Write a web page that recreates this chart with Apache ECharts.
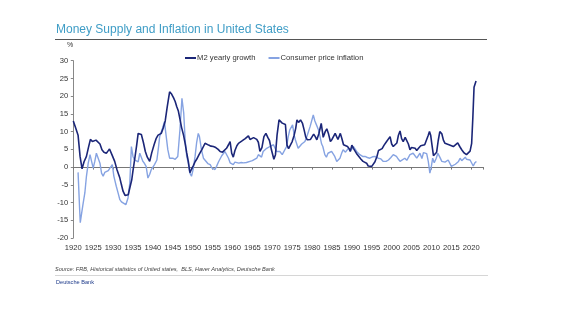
<!DOCTYPE html>
<html>
<head>
<meta charset="utf-8">
<script src="https://cdn.jsdelivr.net/npm/echarts@6/dist/echarts.min.js"></script>
<style>html,body{margin:0;padding:0;background:#fff;}#c{width:561px;height:321px;}</style>
</head>
<body>
<div id="c"></div>
<script>
const titleText = 'Money Supply and Inflation in United States';
const seriesNames = ['M2 yearly growth', 'Consumer price inflation'];
const sourceText = 'Source: FRB, Historical statistics of United states,  BLS, Haver Analytics, Deutsche Bank';
const yTicks = { min: -20, max: 30, step: 5 };
const xTicks = { min: 1920, max: 2023, step: 5 };

const m2Years = [1920.0,1920.6,1921.2,1921.7,1922.2,1922.7,1923.3,1923.8,1924.3,1924.8,1925.2,1925.7,1926.2,1926.7,1927.2,1927.7,1928.3,1928.7,1929.1,1929.7,1930.4,1931.0,1931.7,1932.1,1932.5,1933.0,1933.3,1933.8,1934.2,1934.7,1935.0,1935.4,1935.9,1936.3,1936.7,1937.1,1937.6,1938.1,1938.6,1939.2,1939.7,1940.3,1940.8,1941.3,1941.7,1942.1,1942.6,1943.1,1943.6,1944.2,1944.7,1945.2,1945.6,1946.0,1946.4,1946.8,1947.2,1947.7,1948.1,1948.5,1948.9,1949.3,1949.7,1950.2,1950.6,1951.0,1951.6,1952.3,1952.7,1953.1,1953.6,1954.0,1954.6,1955.2,1955.8,1956.4,1956.9,1957.5,1958.0,1958.5,1959.0,1959.4,1959.8,1960.2,1960.6,1961.1,1961.5,1962.0,1962.3,1962.8,1963.2,1963.6,1964.0,1964.4,1964.8,1965.3,1965.7,1966.1,1966.5,1966.9,1967.4,1967.9,1968.4,1968.9,1969.3,1969.8,1970.4,1970.8,1971.2,1971.7,1972.1,1972.5,1972.9,1973.3,1973.7,1974.1,1974.6,1975.0,1975.5,1975.9,1976.2,1976.6,1977.1,1977.6,1978.0,1978.4,1978.8,1979.2,1979.6,1980.0,1980.4,1980.8,1981.2,1981.7,1982.3,1982.8,1983.3,1983.7,1984.1,1984.6,1985.0,1985.4,1985.8,1986.2,1986.5,1987.1,1987.5,1987.9,1988.4,1988.9,1989.3,1989.6,1990.0,1990.4,1990.9,1991.3,1991.8,1992.3,1992.8,1993.2,1993.7,1994.1,1994.5,1995.0,1995.4,1995.8,1996.3,1996.7,1997.2,1997.6,1998.1,1998.6,1999.0,1999.6,2000.0,2000.4,2000.9,2001.3,2001.7,2002.1,2002.5,2002.9,2003.4,2003.8,2004.2,2004.6,2005.0,2005.4,2005.9,2006.3,2006.8,2007.3,2007.8,2008.3,2008.8,2009.2,2009.5,2009.8,2010.1,2010.5,2010.9,2011.3,2011.7,2012.1,2012.6,2013.0,2013.4,2013.9,2014.4,2014.9,2015.5,2016.0,2016.6,2017.1,2017.6,2018.2,2018.8,2019.3,2019.7,2020.1,2020.4,2020.7,2021.2];
const m2Values = [13,11,9,3,-0.5,1.5,3,5.5,7.8,7.2,6.9,7.6,8.1,6.5,4.9,4.2,3.9,4.5,5.1,3.5,1.6,-0.8,-3.1,-5,-6.8,-8,-8.5,-7.8,-7.3,-3.5,-1,2,6,9.5,9.4,9.2,7,4.4,2.8,1.6,4,6.3,8,9,9.2,9.5,11,13,17,21.2,20.6,19.5,18.5,17,15.8,13.5,11.2,9,6.7,4,1.6,-1.6,-0.6,0.5,1.5,2.2,3.5,4.9,5.8,6.7,6.4,6.2,5.9,5.8,5.5,5,4.4,4.2,4.5,5.3,6.3,7.2,3.9,2.8,4.6,6,6.7,7,7.3,7.7,8,8.1,8.8,7.8,8.1,8.3,8,7.8,7,4.4,5.5,8.6,9.5,8.3,7.5,4.8,2.2,3.5,9,13.3,13,12.4,12.8,12,6.2,5.2,5.6,7.2,9,11,13.3,12.6,13.3,12.3,10.5,8.5,7.7,7.5,7.8,8,9.3,8.6,7.7,9.4,12.3,8.4,10,10.8,9.5,7.2,7.8,8.2,9.5,8.5,7.8,9.5,8,6.3,6.7,5.8,5.2,4.4,6.2,5.3,4.8,3.6,3.4,2.2,1.6,1.2,1.1,0.3,0.8,0.2,0.1,1.5,3,4.7,4.6,5.2,6.2,7,7.5,8.6,6.5,5.8,6.3,6.8,9,10.2,8,7.2,8.4,8.9,6.5,4.9,5.5,5.8,5.3,4.7,5.4,6,6.4,6.3,6.5,9,10,9,6.5,3.2,3.6,4.2,7.5,10,9.4,7.6,6.7,6.5,6.3,6.1,5.8,6.1,6.8,5.8,4.9,4,3.5,3.7,4.5,6.7,14,22.5,24.3];

const cpiYears = [1921.2,1921.6,1921.75,1922.1,1922.5,1922.9,1923.3,1923.75,1924.2,1924.6,1925.0,1925.4,1925.8,1926.25,1926.7,1927.1,1927.5,1927.9,1928.3,1928.8,1929.2,1929.8,1930.2,1930.8,1931.3,1931.7,1932.1,1932.5,1933.2,1933.75,1934.2,1934.6,1935.0,1935.4,1935.8,1936.3,1936.7,1937.1,1937.5,1937.9,1938.3,1938.75,1939.2,1939.6,1940.0,1940.4,1941.0,1941.4,1941.7,1942.3,1942.9,1943.3,1943.75,1944.2,1944.6,1945.0,1945.6,1946.25,1946.8,1947.3,1947.75,1948.1,1948.5,1948.9,1949.3,1949.7,1950.1,1950.6,1951.0,1951.4,1951.7,1952.2,1952.7,1953.2,1953.8,1954.4,1954.8,1955.2,1955.6,1956.0,1956.5,1956.9,1957.3,1957.7,1958.1,1958.5,1959.0,1959.4,1959.8,1960.2,1960.6,1961.0,1961.6,1962.2,1962.8,1963.5,1964.0,1964.4,1965.0,1965.5,1966.1,1966.5,1966.9,1967.3,1967.7,1968.2,1968.6,1969.0,1969.4,1969.9,1970.3,1970.7,1971.1,1971.5,1971.9,1972.5,1973.0,1973.6,1974.0,1974.4,1975.1,1975.5,1975.8,1976.5,1977.0,1977.4,1978.2,1978.8,1979.5,1980.3,1980.7,1981.1,1981.6,1982.0,1982.4,1982.7,1983.2,1983.6,1984.0,1984.9,1985.3,1985.7,1986.2,1986.6,1987.0,1987.4,1987.8,1988.4,1989.1,1989.8,1990.4,1990.8,1991.2,1991.6,1992.0,1992.7,1993.3,1993.9,1994.5,1995.2,1995.8,1996.2,1996.6,1997.3,1997.9,1998.6,1999.2,1999.8,2000.4,2000.8,2001.2,2001.7,2002.1,2002.6,2003.3,2003.8,2004.6,2005.0,2005.4,2005.9,2006.3,2006.7,2007.1,2007.6,2008.0,2008.4,2008.8,2009.2,2009.6,2009.9,2010.3,2010.7,2011.2,2011.6,2012.1,2012.6,2013.0,2013.4,2013.9,2014.2,2014.6,2015.0,2015.5,2016.0,2016.3,2016.8,2017.2,2017.6,2018.0,2018.5,2018.8,2019.3,2019.7,2020.2,2020.5,2020.9,2021.3];
const cpiValues = [-1.5,-12,-15.7,-13,-10,-7.3,-2.6,1.1,3.5,1.6,-0.3,1.6,3.9,4.1,1.1,-1.7,-2.6,-1.5,-1.7,-1,-0.3,0.7,-2.6,-5.4,-7.5,-9.2,-9.8,-10.1,-10.6,-8.7,-4.5,5.8,3,2,2.5,1.5,3.9,3.5,1.6,1,0.2,-3.1,-2,-0.7,0,0.7,2,5.5,8.6,10.5,12.8,9.1,4.9,2.5,2,2.5,2.2,3,10.5,19.4,15.2,7.7,3,1.1,-1.7,-2.6,-0.7,3,7,9.5,8.6,4.9,2.5,2,1,0.7,-0.2,-0.3,-0.7,0.2,1.5,2,3.2,3.5,4.4,3.9,2.5,1.2,1.6,0.7,1.4,1.6,1.1,1.3,1.2,1.3,1.4,1.6,1.8,1.9,2.5,3.5,3,2.8,4.4,4.5,5.3,5.5,5.8,6,6.3,5.3,4.4,4.9,4.4,3.5,4,5.8,8.5,10.5,11.9,9,7.7,5.3,5.8,6.5,7.2,9,11.4,14.7,13,11.9,10.5,8.6,6.5,5.8,3.5,2.8,3.9,4.4,3.7,3,1.6,1.8,2.5,3.8,4.9,4.2,5.3,4.8,5.8,6.2,4.4,4.2,3.5,3,3,2.7,2.5,2.9,3,2.7,2.5,2.3,1.6,1.6,2,2.7,3.5,3.3,3,2.2,1.6,1.8,2.5,1.9,3.5,3,3.9,3.5,2.5,2,3.9,2.4,4.1,4.4,3.8,1.6,-1.7,-0.3,2.5,1.2,2.5,3.9,2.8,1.6,2,1.4,1.6,2,1.7,0.2,0,0.8,1.1,1.6,2.5,1.8,2,2.8,2.2,1.7,2,1.8,0.3,1.2,1.6];

const m2Data = m2Years.map((y, i) => [y, m2Values[i]]);
const cpiData = cpiYears.map((y, i) => [y, cpiValues[i]]);

const chart = echarts.init(document.getElementById('c'), null, { renderer: 'canvas' });
const txt = '#333';
chart.setOption({
  animation: false,
  backgroundColor: '#fff',
  textStyle: { fontFamily: 'Liberation Sans, Arial, sans-serif' },
  grid: { left: 73.3, right: 77.8, top: 60.7, bottom: 83, containLabel: false },
  legend: {
    data: seriesNames,
    left: 180, top: 49,
    icon: 'rect', itemWidth: 11, itemHeight: 2, itemGap: 13,
    textStyle: { fontSize: 7.7, color: txt, padding: [0, 0, 0, -4] }
  },
  graphic: [
    { type: 'text', left: 56, top: 24, style: { text: titleText, fill: '#3f9dc6', font: '12px "Liberation Sans", Arial, sans-serif' } },
    { type: 'line', shape: { x1: 55, y1: 39.5, x2: 487, y2: 39.5 }, style: { stroke: '#555', lineWidth: 1.2 } },
    { type: 'text', left: 67, top: 42, style: { text: '%', fill: txt, font: '7px "Liberation Sans", Arial, sans-serif' } },
    { type: 'text', left: 55, top: 266, style: { text: sourceText, fill: '#444', font: 'italic 5.6px "Liberation Sans", Arial, sans-serif' } },
    { type: 'line', shape: { x1: 55, y1: 275.5, x2: 488, y2: 275.5 }, style: { stroke: '#ccc', lineWidth: 0.8 } },
    { type: 'text', left: 56, top: 279.5, style: { text: 'Deutsche Bank', fill: '#1d3a8a', font: '5.6px "Liberation Sans", Arial, sans-serif' } }
  ],
  xAxis: [
    {
      type: 'value', min: xTicks.min, max: xTicks.max, interval: xTicks.step,
      axisLine: { show: false, onZero: false }, axisTick: { show: false }, splitLine: { show: false },
      axisLabel: { color: txt, fontSize: 7.6, margin: 6, showMaxLabel: false, formatter: v => (v % 5 === 0 && v <= 2020) ? String(v) : '' }
    },
    {
      type: 'value', min: xTicks.min, max: xTicks.max, interval: xTicks.step, position: 'bottom',
      axisLine: { show: true, onZero: true, lineStyle: { color: '#777', width: 1 } },
      axisTick: { show: true, length: 2.5, lineStyle: { color: '#777' } },
      axisLabel: { show: false }, splitLine: { show: false }
    }
  ],
  yAxis: {
    type: 'value', min: yTicks.min, max: yTicks.max, interval: yTicks.step,
    axisLine: { show: true, lineStyle: { color: '#888' } },
    axisTick: { show: true, length: 2.5, lineStyle: { color: '#888' } },
    axisLabel: { color: txt, fontSize: 7.6, margin: 5 },
    splitLine: { show: false }
  },
  series: [
    { name: seriesNames[0], type: 'line', data: m2Data, xAxisIndex: 0, showSymbol: false, z: 3,
      lineStyle: { color: '#1b2678', width: 1.6 }, itemStyle: { color: '#1b2678' } },
    { name: seriesNames[1], type: 'line', data: cpiData, xAxisIndex: 0, showSymbol: false, z: 2,
      lineStyle: { color: '#86a3e2', width: 1.4 }, itemStyle: { color: '#86a3e2' } }
  ]
});
</script>
</body>
</html>
